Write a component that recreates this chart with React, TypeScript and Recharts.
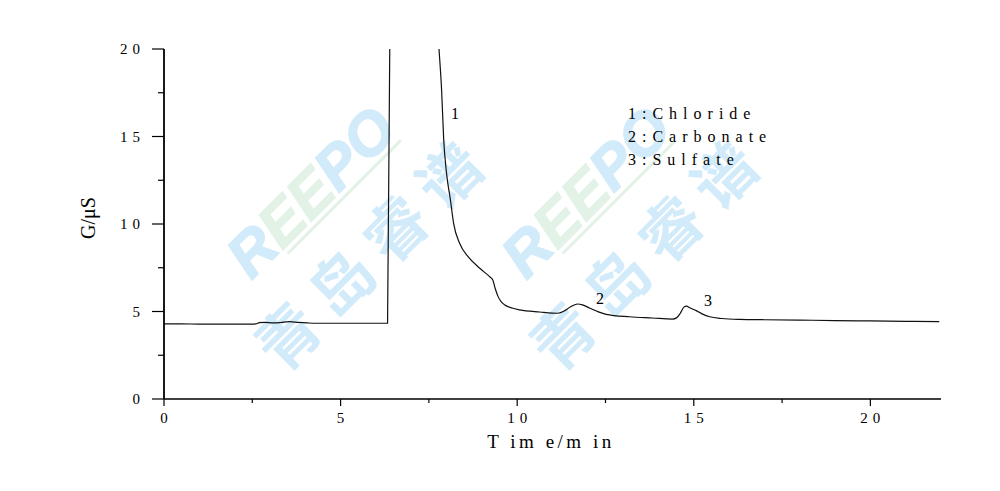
import { LineChart, Line, XAxis, YAxis } from 'recharts'

// retention time (min) and conductivity (µS)
const times = [
  0, 0.5, 1.0, 1.5, 2.0, 2.5, 2.6, 2.7, 2.85, 3.1, 3.3, 3.55, 3.8, 4.05, 4.3, 5.0, 5.5, 6.0, 6.33,
  6.4, 7.0, 7.74,
  7.78, 7.86, 7.92, 8.0, 8.11, 8.2, 8.37, 8.61, 8.94, 9.22, 9.31, 9.38, 9.46, 9.55, 9.67, 9.85, 10.07,
  10.64, 11.15, 11.35, 11.49, 11.71, 11.85, 12.05, 12.3, 12.52, 13.18, 13.83, 14.4,
  14.52, 14.62, 14.72, 14.79, 14.9, 15.07, 15.25, 15.45, 15.8, 16.3, 17, 18, 19, 20, 21, 21.95,
]
const signal = [
  4.29, 4.29, 4.28, 4.28, 4.28, 4.28, 4.29, 4.36, 4.38, 4.35, 4.37, 4.42, 4.38, 4.35, 4.33, 4.33, 4.33, 4.33, 4.33,
  22, 30, 21.5,
  20.2, 17.66, 14.8, 12.9, 11.37, 10.04, 8.9, 8.13, 7.47, 6.99, 6.8, 6.3, 5.85, 5.55, 5.35, 5.2, 5.09,
  4.97, 4.9, 5.05, 5.24, 5.43, 5.38, 5.2, 4.98, 4.84, 4.7, 4.63, 4.57,
  4.65, 4.9, 5.25, 5.31, 5.2, 5.05, 4.85, 4.7, 4.6, 4.55, 4.53, 4.51, 4.48, 4.46, 4.44, 4.42,
]

const xTicks = [0, 2.5, 5, 7.5, 10, 12.5, 15, 17.5, 20]
const yTicks = [0, 2.5, 5, 7.5, 10, 12.5, 15, 17.5, 20]
const legendLines = ['1:Chloride', '2:Carbonate', '3:Sulfate']

const data = times.map((t, i) => ({ t, g: signal[i] }))

const serif = '"Liberation Serif", "Times New Roman", serif'

function XTick({ x, y, payload }: any) {
  const v = payload.value
  const major = v % 5 === 0
  return (
    <g>
      <line x1={x} y1={y} x2={x} y2={y + (major ? 7 : 4)} stroke="#000" strokeWidth={1.2} />
      {major && (
        <text x={x + 2.5} y={y + 24} textAnchor="middle" fontFamily={serif} fontSize={15} letterSpacing={5} fill="#000">
          {String(v)}
        </text>
      )}
    </g>
  )
}

function YTick({ x, y, payload }: any) {
  const v = payload.value
  const major = v % 5 === 0
  return (
    <g>
      <line x1={x - (major ? 12 : 6)} y1={y} x2={x} y2={y} stroke="#000" strokeWidth={1.2} />
      {major && (
        <text x={x - 19} y={y + 5} textAnchor="end" fontFamily={serif} fontSize={15} letterSpacing={5} fill="#000">
          {String(v)}
        </text>
      )}
    </g>
  )
}

function Watermark({ dx }: { dx: number }) {
  return (
    <g>
      <g transform={`rotate(-45 ${311 + dx} 192)`}>
        <text x={311 + dx} y={192} textAnchor="middle" dominantBaseline="central"
          fontFamily='"Liberation Sans Narrow", "Liberation Sans", Arial, sans-serif' fontWeight={700} fontStyle="italic"
          fontSize={60} fill="#d2ebfa" stroke="#d2ebfa" strokeWidth={1.5}>
          R<tspan fill="#e2f2e6" stroke="#e2f2e6">EE</tspan>PO
        </text>
        <line x1={311 + dx - 60} y1={219} x2={311 + dx + 100} y2={219} stroke="#e2f2e6" strokeWidth={3} />
      </g>
      <g transform={`rotate(-45 ${366 + dx} 253)`}>
        <text x={366 + dx + 7} y={253} textAnchor="middle" dominantBaseline="central"
          fontFamily='"Noto Sans CJK SC", sans-serif' fontWeight={700} fontSize={62} letterSpacing={14}
          fill="#d2ebfa">
          青岛睿谱
        </text>
      </g>
    </g>
  )
}

export default function App() {
  return (
    <div style={{ position: 'absolute', left: 0, top: 0, width: 1000, height: 491, background: '#fff' }}>
      <svg width={1000} height={491} style={{ position: 'absolute', left: 0, top: 0 }}>
        <Watermark dx={0} />
        <Watermark dx={275} />
      </svg>

      <div style={{ position: 'absolute', left: 0, top: 0 }}>
        <LineChart width={1000} height={491} data={data} margin={{ top: 49, right: 59, bottom: 32, left: 64 }}>
          <XAxis
            dataKey="t"
            type="number"
            domain={[0, 22]}
            ticks={xTicks}
            allowDataOverflow
            height={60}
            tickSize={0}
            tickMargin={0}
            tickLine={false}
            axisLine={{ stroke: '#000', strokeWidth: 1.6 }}
            tick={<XTick />}
            interval={0}
          />
          <YAxis
            type="number"
            domain={[0, 20]}
            ticks={yTicks}
            allowDataOverflow
            width={100}
            tickSize={0}
            tickMargin={0}
            tickLine={false}
            axisLine={{ stroke: '#000', strokeWidth: 1.8 }}
            tick={<YTick />}
            interval={0}
          />
          <Line
            dataKey="g"
            type="monotone"
            stroke="#111"
            strokeWidth={1.2}
            dot={false}
            activeDot={false}
            isAnimationActive={false}
          />
        </LineChart>
      </div>

      <svg width={1000} height={491} style={{ position: 'absolute', left: 0, top: 0, pointerEvents: 'none' }}>
        <text x={88} y={218} transform="rotate(-90 88 218)" textAnchor="middle" dominantBaseline="central"
          fontFamily={serif} fontSize={20} fill="#000">
          G/μS
        </text>
        <text x={551} y={448} textAnchor="middle" fontFamily={serif} fontSize={19} letterSpacing={3.5} fill="#000">
          T im e/m in
        </text>
        <text x={455} y={119} textAnchor="middle" fontFamily={serif} fontSize={16} fill="#000">1</text>
        <text x={600} y={304} textAnchor="middle" fontFamily={serif} fontSize={16} fill="#000">2</text>
        <text x={708} y={306} textAnchor="middle" fontFamily={serif} fontSize={16} fill="#000">3</text>
        {legendLines.map((s, i) => (
          <text key={s} x={628} y={119 + i * 23} fontFamily={serif} fontSize={16} letterSpacing={6} fill="#000">
            {s}
          </text>
        ))}
      </svg>
    </div>
  )
}
